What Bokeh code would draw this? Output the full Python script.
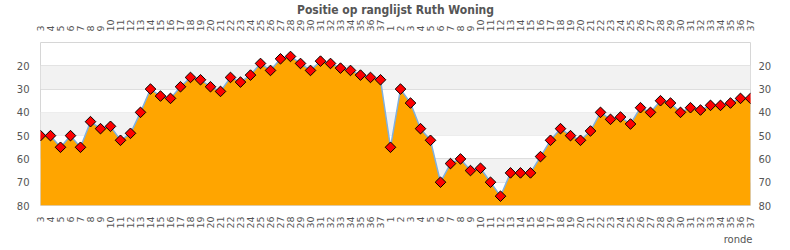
import math
from bokeh.plotting import figure
from bokeh.models import (Range1d, FixedTicker, LinearAxis, BoxAnnotation, Title,
                          ColumnDataSource)
from bokeh.embed import file_html
from bokeh.resources import INLINE

# ---- data ----
rounds = [str(r) for r in range(3, 38)] + [str(r) for r in range(1, 38)]
positions = [50, 50, 55, 50, 55, 44, 47, 46, 52, 49, 40, 30, 33, 34, 29, 25, 26, 29, 31, 25,
             27, 24, 19, 22, 17, 16, 19, 22, 18, 19, 21, 22, 24, 25, 26,
             55, 30, 36, 47, 52, 70, 62, 60, 65, 64, 70, 76, 66, 66, 66, 59, 52, 47, 50, 52,
             48, 40, 43, 42, 45, 38, 40, 35, 36, 40, 38, 39, 37, 37, 36, 34, 34]
y_ticks = [20, 30, 40, 50, 60, 70, 80]
bands = [(20, 30), (40, 50), (60, 70)]
title_text = "Positie op ranglijst Ruth Woning"
x_title = "ronde"

idx = list(range(len(rounds)))
src = ColumnDataSource(dict(x=idx, y=positions, base=[80] * len(idx), label=rounds))

p = figure(width=790, height=250, output_backend="svg", toolbar_location=None,
           x_range=Range1d(0, len(idx) - 1), y_range=Range1d(80, 10),
           min_border_left=40, min_border_right=40, min_border_top=40, min_border_bottom=45,
           x_axis_location=None, y_axis_location=None)
p.background_fill_color = "white"
p.border_fill_color = "white"
p.outline_line_color = "#d6d6d6"
p.outline_line_width = 1

for lo, hi in bands:
    p.add_layout(BoxAnnotation(bottom=lo, top=hi, fill_color="#f2f2f2", fill_alpha=1,
                               line_color=None, level="underlay"))

p.xgrid.visible = False
p.ygrid.ticker = FixedTicker(ticks=y_ticks)
p.ygrid.grid_line_color = "#dedede"
p.ygrid.grid_line_width = 1

p.varea(x="x", y1="y", y2="base", source=src, fill_color="#FFA500")
p.line(x="x", y="y", source=src, line_color="#7fb0e0", line_width=1.5)
p.scatter(x="x", y="y", source=src, marker="square", angle=math.pi / 4, size=7.5,
          fill_color="#FF0000", line_color="black", line_width=1)

overrides = {i: lab for i, lab in zip(idx, rounds)}

def style_axis(ax, standoff, fs):
    ax.axis_line_color = None
    ax.major_tick_line_color = None
    ax.minor_tick_line_color = None
    ax.major_tick_out = 0
    ax.major_tick_in = 0
    ax.minor_tick_out = 0
    ax.major_label_standoff = standoff
    ax.major_label_text_font = "DejaVu Sans"
    ax.major_label_text_font_size = fs
    ax.major_label_text_color = "#555555"

for loc in ("below", "above"):
    ax = LinearAxis(ticker=FixedTicker(ticks=idx), major_label_overrides=overrides,
                    major_label_orientation=math.pi / 2)
    style_axis(ax, 11, "9.5px")
    p.add_layout(ax, loc)

for loc, so in (("left", 11), ("right", 8)):
    ax = LinearAxis(ticker=FixedTicker(ticks=y_ticks))
    style_axis(ax, so, "10px")
    p.add_layout(ax, loc)

p.add_layout(Title(text=title_text, align="center", text_font="DejaVu Sans Condensed",
                   text_font_style="bold", text_font_size="12px", text_color="#555555",
                   standoff=0), "above")
p.add_layout(Title(text=x_title, align="right", text_font="DejaVu Sans",
                   text_font_style="normal", text_font_size="10px", text_color="#555555",
                   standoff=0, offset=-2), "below")

open("out.html", "w").write(file_html(p, INLINE))
